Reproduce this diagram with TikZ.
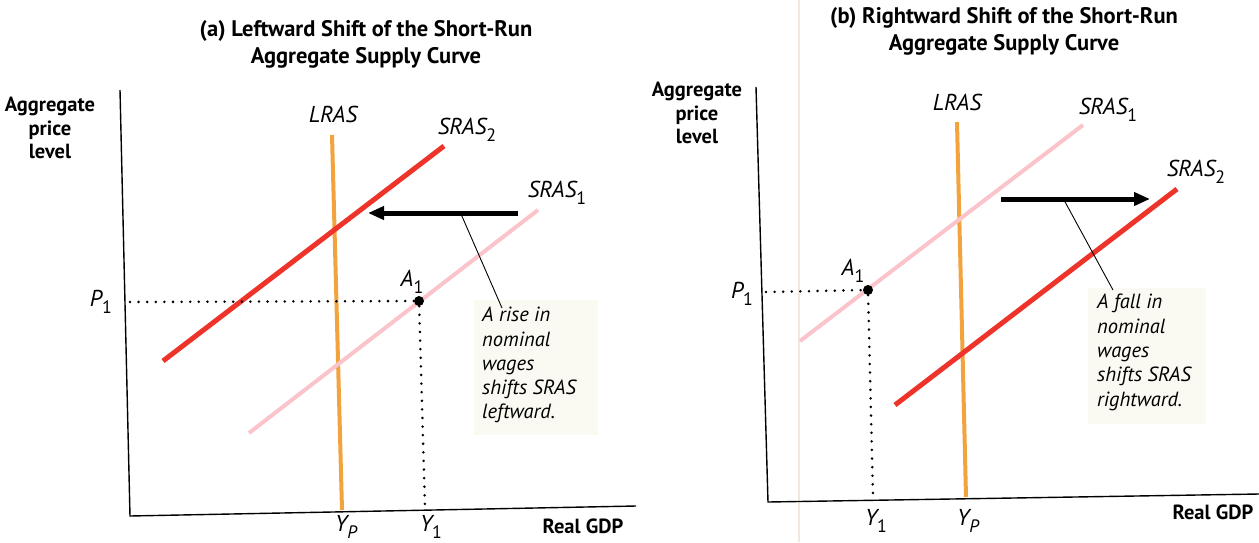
\documentclass[tikz,border=0pt]{standalone}
\usepackage{fontspec}
\setmainfont{PT Sans}
\usetikzlibrary{arrows.meta}
\definecolor{lrascol}{RGB}{243,163,62}
\definecolor{srasred}{RGB}{238,52,42}
\definecolor{sraspink}{RGB}{250,196,202}
\definecolor{notebg}{RGB}{250,250,242}
\definecolor{gutter}{RGB}{240,232,222}
\newcommand\lowsub[1]{\raisebox{-0.3em}{\scalebox{0.78}{#1}}}
\begin{document}
\begin{tikzpicture}[x=1pt,y=-1pt,
  axisline/.style={line width=1.4pt,black},
  lrasline/.style={line width=4pt,lrascol},
  redline/.style={line width=5pt,srasred},
  pinkline/.style={line width=4pt,sraspink},
  shiftarrow/.style={line width=5pt,-{Triangle[length=16pt,width=13pt]}},
  leaderline/.style={line width=0.9pt},
  guide/.style={line width=2.8pt,line cap=round,dash pattern=on 0pt off 8.6pt},
  titletext/.style={font=\bfseries\fontsize{22.5}{27}\selectfont,align=center,inner sep=0pt},
  axlabel/.style={font=\bfseries\fontsize{20.5}{23.5}\selectfont,align=center,inner sep=0pt},
  curvelabel/.style={font=\itshape\fontsize{23}{24}\selectfont,inner sep=0pt},
  notetext/.style={font=\itshape\fontsize{20.5}{24.3}\selectfont,align=left,inner sep=0pt},
  notebox/.style={fill=notebg,draw=none},
  pointdot/.style={circle,fill=black,inner sep=0pt,minimum size=10pt}]
\useasboundingbox (0,0) rectangle (1259,542);
% page gutter of the scan
\draw[gutter,line width=1.5pt] (799,0) -- (799,542);

% ================= panel (a) =================
\node[titletext] (ta) at (366,44) {(a) Leftward Shift of the Short-Run\\Aggregate Supply Curve};
\node[axlabel] (yla) at (50,128) {Aggregate\\price\\level};
\coordinate (a-ytop) at (120,90);
\coordinate (a-o) at (130,516);
\coordinate (a-xend) at (636,506);
\draw[axisline] (a-ytop) -- (a-o) -- (a-xend);
% note box
\fill[notebox] (474,300) rectangle (598,435);
\node[notetext,anchor=north west] (a-note) at (482,307) {A rise in\\nominal\\wages\\shifts SRAS\\leftward.};
% curves
\coordinate (a-lt) at (332,135);
\coordinate (a-lb) at (342,510);
\draw[lrasline] (a-lb) -- (a-lt);
\coordinate (a-s1lo) at (249,433);
\coordinate (a-s1hi) at (538,210);
\draw[pinkline] (a-s1lo) -- (a-s1hi);
\coordinate (a-s2lo) at (163,361);
\coordinate (a-s2hi) at (444,146);
\draw[redline] (a-s2lo) -- (a-s2hi);
\node[curvelabel] (a-lrasl) at (333,114) {LRAS};
\node[curvelabel] (a-s2l) at (467,130) {SRAS\lowsub{\upshape 2}};
\node[curvelabel] (a-s1l) at (557,193) {SRAS\lowsub{\upshape 1}};
% shift arrow + leader
\coordinate (a-arst) at (518,213);
\coordinate (a-arend) at (368,213);
\draw[shiftarrow] (a-arst) -- (a-arend);
\coordinate (a-ldtop) at (461,214);
\coordinate (a-ldbot) at (502,308);
\draw[leaderline] (a-ldtop) -- (a-ldbot);
% equilibrium
\node[pointdot] (a-A1) at (419,301) {};
\node[curvelabel] (a-A1l) at (412,282) {A\lowsub{\upshape 1}};
\coordinate (a-p1ax) at (130,302);
\coordinate (a-y1ax) at (425,508);
\draw[guide] (a-p1ax) -- (a-A1);
\draw[guide] (a-A1) -- (a-y1ax);
\node[curvelabel] (a-p1l) at (101,302) {P\lowsub{\upshape 1}};
\node[curvelabel] (a-ypl) at (346,527) {Y\lowsub{P}};
\node[curvelabel] (a-y1l) at (431,527) {Y\lowsub{\upshape 1}};
\node[axlabel] (a-gdp) at (583,526) {Real GDP};

% ================= panel (b) =================
\node[titletext] (tb) at (1004,31) {(b) Rightward Shift of the Short-Run\\Aggregate Supply Curve};
\node[axlabel] (ylb) at (697,113) {Aggregate\\price\\level};
\coordinate (b-ytop) at (756,87);
\coordinate (b-o) at (768,502);
\coordinate (b-xend) at (1259,494);
\draw[axisline] (b-ytop) -- (b-o) -- (b-xend);
% note box
\fill[notebox] (1088,288) rectangle (1206,424);
\node[notetext,anchor=north west] (b-note) at (1097,294) {A fall in\\nominal\\wages\\shifts SRAS\\rightward.};
% curves
\coordinate (b-lt) at (957,122);
\coordinate (b-lb) at (966,497);
\draw[lrasline] (b-lb) -- (b-lt);
\coordinate (b-s1lo) at (800,341);
\coordinate (b-s1hi) at (1083,125);
\draw[pinkline] (b-s1lo) -- (b-s1hi);
\coordinate (b-s2lo) at (895,405);
\coordinate (b-s2hi) at (1177,189);
\draw[redline] (b-s2lo) -- (b-s2hi);
\node[curvelabel] (b-lrasl) at (957,102) {LRAS};
\node[curvelabel] (b-s1l) at (1108,110) {SRAS\lowsub{\upshape 1}};
\node[curvelabel] (b-s2l) at (1196,172) {SRAS\lowsub{\upshape 2}};
% shift arrow + leader
\coordinate (b-arst) at (1001,199);
\coordinate (b-arend) at (1150,199);
\draw[shiftarrow] (b-arst) -- (b-arend);
\coordinate (b-ldtop) at (1064,200);
\coordinate (b-ldbot) at (1113,290);
\draw[leaderline] (b-ldtop) -- (b-ldbot);
% equilibrium
\node[pointdot] (b-A1) at (868,290) {};
\node[curvelabel] (b-A1l) at (853,271) {A\lowsub{\upshape 1}};
\coordinate (b-p1ax) at (766,292);
\coordinate (b-y1ax) at (873,497);
\draw[guide] (b-p1ax) -- (b-A1);
\draw[guide] (b-A1) -- (b-y1ax);
\node[curvelabel] (b-p1l) at (742,294) {P\lowsub{\upshape 1}};
\node[curvelabel] (b-y1l) at (876,521) {Y\lowsub{\upshape 1}};
\node[curvelabel] (b-ypl) at (968,521) {Y\lowsub{P}};
\node[axlabel] (b-gdp) at (1213,512) {Real GDP};
\end{tikzpicture}
\end{document}
